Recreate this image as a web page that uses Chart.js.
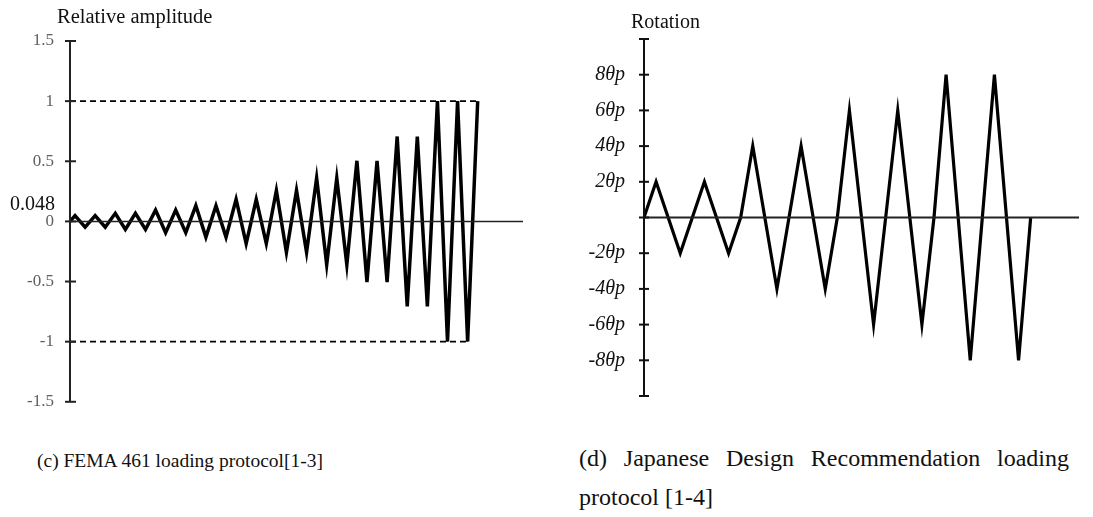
<!DOCTYPE html>
<html>
<head>
<meta charset="utf-8">
<script src="https://cdn.jsdelivr.net/npm/chart.js@4.4.1/dist/chart.umd.min.js"></script>
<style>
  html, body { margin:0; padding:0; background:#fff; }
  body { width:1093px; height:517px; position:relative; overflow:hidden; font-family:"Liberation Serif","Times New Roman",serif; }
  .abs { position:absolute; white-space:nowrap; color:#111; }
  canvas { position:absolute; }
  .just { position:absolute; width:490px; white-space:nowrap; font-size:24px; line-height:28px; color:#111; text-align:justify; text-align-last:justify; }
</style>
</head>
<body>
<canvas id="left" width="540" height="428" style="left:0;top:0;width:540px;height:428px;"></canvas>
<canvas id="right" width="533" height="427" style="left:560px;top:0;width:533px;height:427px;"></canvas>

<div class="abs" style="left:57px;top:5px;font-size:20.5px;">Relative amplitude</div>
<div class="abs" style="left:10px;top:192px;font-size:20px;">0.048</div>
<div class="abs" style="left:631px;top:10px;font-size:20px;">Rotation</div>

<div class="abs" style="left:37px;top:450px;font-size:19.5px;">(c) FEMA 461 loading protocol[1-3]</div>
<div class="just" style="left:579px;top:444px;">(d) Japanese Design Recommendation loading</div>
<div class="abs" style="left:579px;top:483px;font-size:24px;line-height:28px;">protocol [1-4]</div>

<script>
// ---- Left chart: FEMA 461 (relative amplitude vs. time step) ----
const femaT = [0, 1, 3, 5, 7, 9, 11, 13, 15, 17, 19, 21, 23, 25, 27, 29, 31, 33, 35, 37, 39,
               41, 43, 45, 47, 49, 51, 53, 55, 57, 59, 61, 63, 65, 67, 69, 71, 73, 75, 77, 79, 81];
const femaAmp = [0, 0.048, -0.048, 0.048, -0.048, 0.067, -0.067, 0.067, -0.067,
                 0.094, -0.094, 0.094, -0.094, 0.131, -0.131, 0.131, -0.131,
                 0.184, -0.184, 0.184, -0.184, 0.257, -0.257, 0.257, -0.257,
                 0.36, -0.36, 0.36, -0.36, 0.504, -0.504, 0.504, -0.504,
                 0.706, -0.706, 0.706, -0.706, 1.0, -1.0, 1.0, -1.0, 1.0];
const femaUpperT = [0, 81];
const femaUpperY = [1, 1];
const femaLowerT = [0, 79];
const femaLowerY = [-1, -1];
const femaZeroT = [0, 90];
const femaZeroY = [0, 0];
const femaTicks = [-1.5, -1, -0.5, 0, 0.5, 1, 1.5];

// ---- Right chart: Japanese Design Recommendation (rotation vs. time step) ----
const jdrT = [0, 1, 3, 5, 7, 8, 9, 11, 13, 15, 16, 17, 19, 21, 23, 24, 25, 27, 29, 31, 32];
const jdrRot = [0, 2, -2, 2, -2, 0, 4, -4, 4, -4, 0, 6, -6, 6, -6, 0, 8, -8, 8, -8, 0];
const jdrZeroT = [0, 36];
const jdrZeroY = [0, 0];
const jdrTicks = [-10, -8, -6, -4, -2, 0, 2, 4, 6, 8, 10];
const jdrTickLabels = ['', '-8θp', '-6θp', '-4θp', '-2θp', '', '2θp', '4θp', '6θp', '8θp', ''];

const pts = (xs, ys) => xs.map((x, i) => ({x, y: ys[i]}));

const crossTicks = {
  id: 'crossTicks',
  afterDatasetsDraw(chart, args, opts) {
    const ys = chart.scales.y, ctx = chart.ctx;
    const x0 = ys.right;
    ctx.save();
    ctx.strokeStyle = opts.color;
    ctx.lineWidth = opts.width;
    ctx.beginPath();
    ctx.moveTo(x0, ys.getPixelForValue(ys.max));
    ctx.lineTo(x0, ys.getPixelForValue(ys.min));
    ctx.stroke();
    ys.ticks.forEach(t => {
      const py = ys.getPixelForValue(t.value);
      ctx.beginPath();
      ctx.moveTo(x0 - opts.out, py);
      ctx.lineTo(x0 + opts.inn, py);
      ctx.stroke();
    });
    ctx.restore();
  }
};

const lineDs = (data, opts) => Object.assign({
  data, borderColor: '#000', borderWidth: 3.5, pointRadius: 0, tension: 0,
  borderJoinStyle: 'miter', fill: false
}, opts);

new Chart(document.getElementById('left'), {
  type: 'line',
  data: {
    datasets: [
      lineDs(pts(femaZeroT, femaZeroY), {borderColor: '#222', borderWidth: 1.5}),
      lineDs(pts(femaUpperT, femaUpperY), {borderWidth: 1.6, borderDash: [6, 4]}),
      lineDs(pts(femaLowerT, femaLowerY), {borderWidth: 1.6, borderDash: [6, 4]}),
      lineDs(pts(femaT, femaAmp), {})
    ]
  },
  options: {
    responsive: false, animation: false, devicePixelRatio: 1,
    layout: {padding: {left: 0, right: 17, top: 41, bottom: 0}},
    plugins: {legend: {display: false}, tooltip: {enabled: false},
              crossTicks: {color: '#222', width: 2, out: 5, inn: 6}},
    scales: {
      x: {type: 'linear', min: 0, max: 90, display: false},
      y: {
        min: -1.5, max: 1.5,
        afterBuildTicks: s => { s.ticks = femaTicks.map(v => ({value: v})); },
        afterFit: s => { s.width = 70; },
        grid: {display: false, drawTicks: false},
        border: {display: false},
        ticks: {
          padding: 16, color: '#606060',
          font: {family: 'Liberation Serif', size: 17},
          callback: v => String(v)
        }
      }
    }
  },
  plugins: [crossTicks]
});

new Chart(document.getElementById('right'), {
  type: 'line',
  data: {
    datasets: [
      lineDs(pts(jdrZeroT, jdrZeroY), {borderColor: '#222', borderWidth: 1.8}),
      lineDs(pts(jdrT, jdrRot), {borderWidth: 3.2})
    ]
  },
  options: {
    responsive: false, animation: false, devicePixelRatio: 1,
    layout: {padding: {left: 0, right: 14, top: 39, bottom: 0}},
    plugins: {legend: {display: false}, tooltip: {enabled: false},
              crossTicks: {color: '#111', width: 2, out: 5, inn: 5}},
    scales: {
      x: {type: 'linear', min: 0, max: 36, display: false},
      y: {
        min: -10, max: 10,
        afterBuildTicks: s => { s.ticks = jdrTicks.map(v => ({value: v})); },
        afterFit: s => { s.width = 84; },
        grid: {display: false, drawTicks: false},
        border: {display: false},
        ticks: {
          padding: 19, color: '#111',
          font: {family: 'Liberation Serif', size: 20, style: 'italic'},
          callback: (v, i) => jdrTickLabels[jdrTicks.indexOf(v)]
        }
      }
    }
  },
  plugins: [crossTicks]
});
</script>
</body>
</html>
